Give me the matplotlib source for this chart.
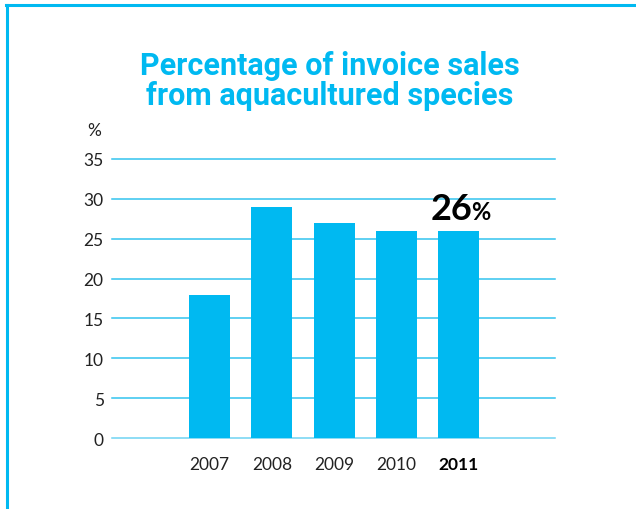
import matplotlib
matplotlib.use("Agg")
import matplotlib.pyplot as plt
from matplotlib.lines import Line2D

years = ["2007", "2008", "2009", "2010", "2011"]
values = [18, 29, 27, 26, 26]
yticks = [0, 5, 10, 15, 20, 25, 30, 35]
title = "Percentage of invoice sales\nfrom aquacultured species"
highlight_label = "26"

CYAN = "#00b9f1"
GRID = "#33c3ef"

W, H = 636, 510
fig = plt.figure(figsize=(W / 100, H / 100), dpi=100)

# axes placement in pixels
x0, x1 = 112, 555
y0, y1 = 439, 160  # pixel rows for 0 and 35
ax = fig.add_axes([x0 / W, 1 - y0 / H, (x1 - x0) / W, (y0 - y1) / H])
ax.set_ylim(0, 35)
xs = list(range(len(years)))
ax.set_xlim(-1.573, 5.556)
ax.bar(xs, values, width=0.66, color=CYAN, zorder=3)

for t in yticks:
    ax.axhline(t, color=GRID if t > 0 else "#6fd3f3", lw=1.1, zorder=1, clip_on=False)

for s in ax.spines.values():
    s.set_visible(False)
ax.set_yticks(yticks)
ax.set_yticklabels([str(t) for t in yticks], fontsize=12.5, color="#222222", family="Lato")
ax.tick_params(axis="y", length=0, pad=6)
ax.set_xticks(xs)
ax.set_xticklabels(years, fontsize=12.5, color="#222222", family="Lato")
ax.tick_params(axis="x", length=0, pad=13)
for lbl in ax.get_xticklabels():
    if lbl.get_text() == "2011":
        lbl.set_fontweight("bold")
        lbl.set_color("black")

ax.text(-0.025, 1.105, "%", transform=ax.transAxes, ha="right", va="center",
        fontsize=12.5, color="#222222", family="Lato")

# highlight annotation
ax.annotate(highlight_label, xy=(xs[-1], values[-1]), xytext=(-20, 8.5),
            textcoords="offset points", ha="left", va="baseline",
            fontsize=26, fontweight="bold", color="black", family="Lato")
ax.annotate("%", xy=(xs[-1], values[-1]), xytext=(9.5, 8.5),
            textcoords="offset points", ha="left", va="baseline",
            fontsize=17, fontweight="bold", color="black", family="Lato")

fig.text(330 / W, 1 - 81 / H, title, ha="center", va="center", fontsize=22,
         fontweight="bold", color=CYAN, linespacing=1.0,
         family=["Roboto", "DejaVu Sans"])

# frame: left and top border
fig.add_artist(Line2D([7 / W, 7 / W], [0, 1 - 6 / H], color=CYAN, lw=2.2,
                      transform=fig.transFigure))
fig.add_artist(Line2D([6 / W, 1], [1 - 6 / H, 1 - 6 / H], color=CYAN, lw=2.2,
                      transform=fig.transFigure))

fig.savefig("out.png", dpi=100)
